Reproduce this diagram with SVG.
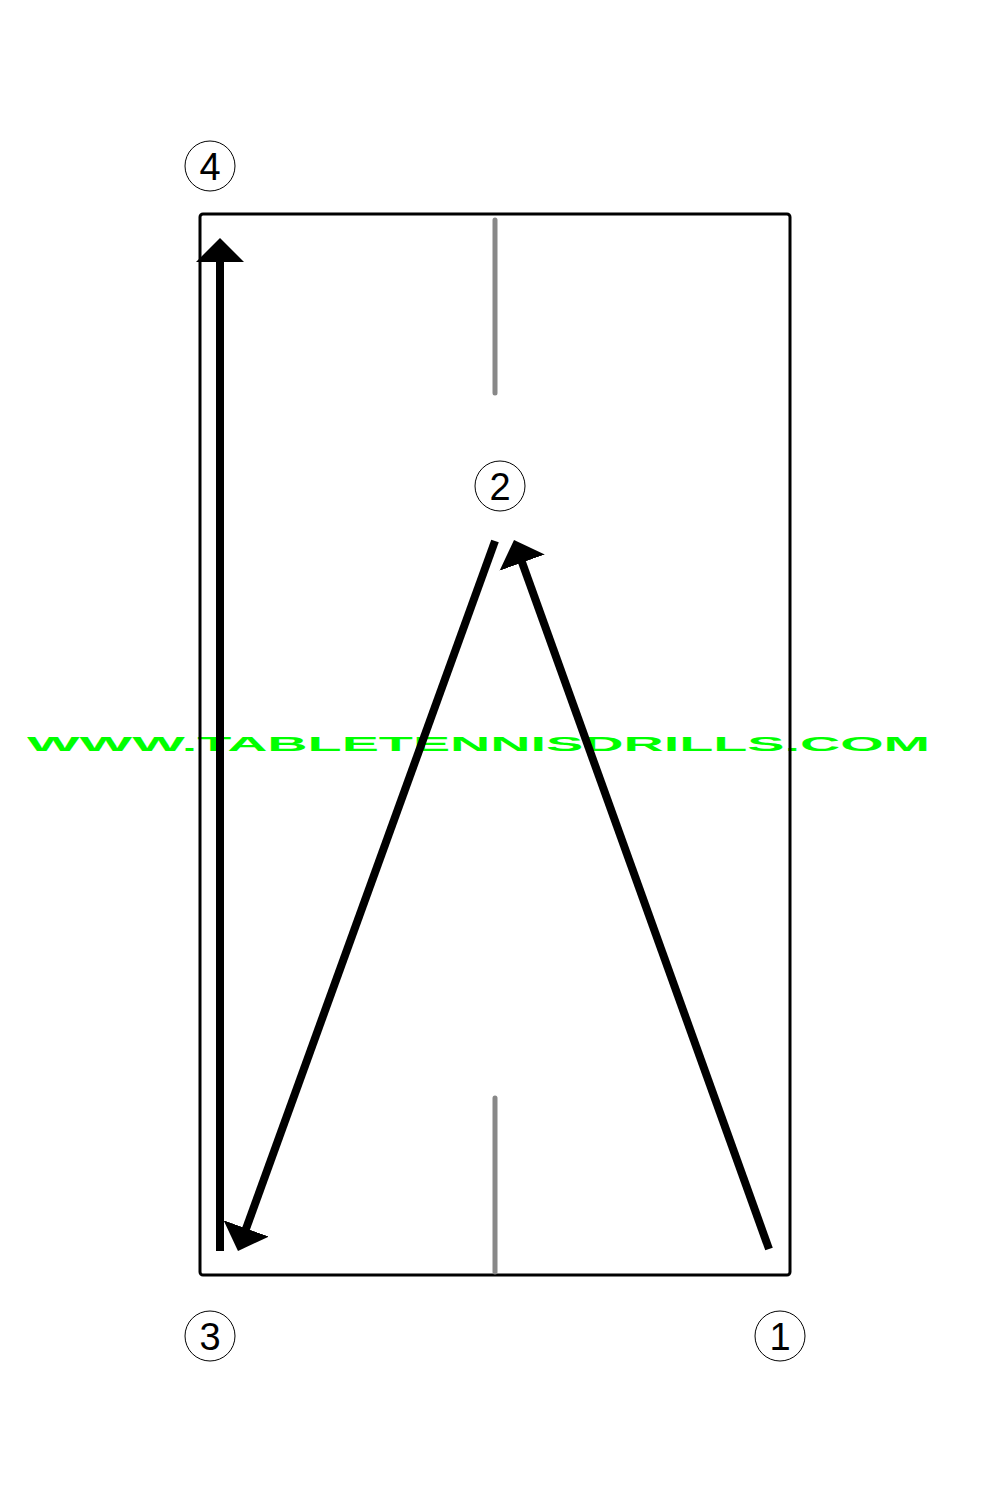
<svg xmlns="http://www.w3.org/2000/svg" width="1000" height="1500" viewBox="0 0 1000 1500">
<style>
.table{fill:none;stroke:#000;stroke-width:3}
.net{stroke:#888;stroke-width:5;stroke-linecap:round}
.path{stroke:#000;stroke-width:8;fill:none}
.node circle{fill:#fff;stroke:#000;stroke-width:1}
.node text{font-family:"Liberation Sans",Arial,sans-serif;font-size:38px;text-anchor:middle;fill:#000}
.wm{font-family:"Liberation Sans",Arial,sans-serif;font-weight:bold;font-size:20px;fill:#00ff00}
</style>
<defs>
<marker id="head" viewBox="0 -24 24 48" refX="4" refY="0" markerWidth="24" markerHeight="48" markerUnits="userSpaceOnUse" orient="auto">
<path d="M0,-24 L24,0 L0,24 z" fill="#000"/>
</marker>
</defs>
<rect width="1000" height="1500" fill="#fff"/>
<text class="wm" x="27" y="751" textLength="903" lengthAdjust="spacingAndGlyphs">WWW.TABLETENNISDRILLS.COM</text>
<g id="table">
<rect class="table" x="200" y="214" width="590" height="1061" rx="3"/>
<line class="net" x1="495" y1="220" x2="495" y2="393"/>
<line class="net" x1="495" y1="1098" x2="495" y2="1272"/>
</g>
<g id="connectors">
<line class="path" x1="769" y1="1249" x2="520.8" y2="558.8" marker-end="url(#head)"/>
<line class="path" x1="495" y1="541" x2="244.8" y2="1232.2" marker-end="url(#head)"/>
<line class="path" x1="220" y1="1251" x2="220" y2="258" marker-end="url(#head)"/>
</g>
<g id="n4" class="node"><circle cx="210" cy="166" r="25"/><text x="210" y="180">4</text></g>
<g id="n2" class="node"><circle cx="500" cy="486" r="25"/><text x="500" y="500">2</text></g>
<g id="n3" class="node"><circle cx="210" cy="1336" r="25"/><text x="210" y="1350">3</text></g>
<g id="n1" class="node"><circle cx="780" cy="1336" r="25"/><text x="780" y="1350">1</text></g>
</svg>
